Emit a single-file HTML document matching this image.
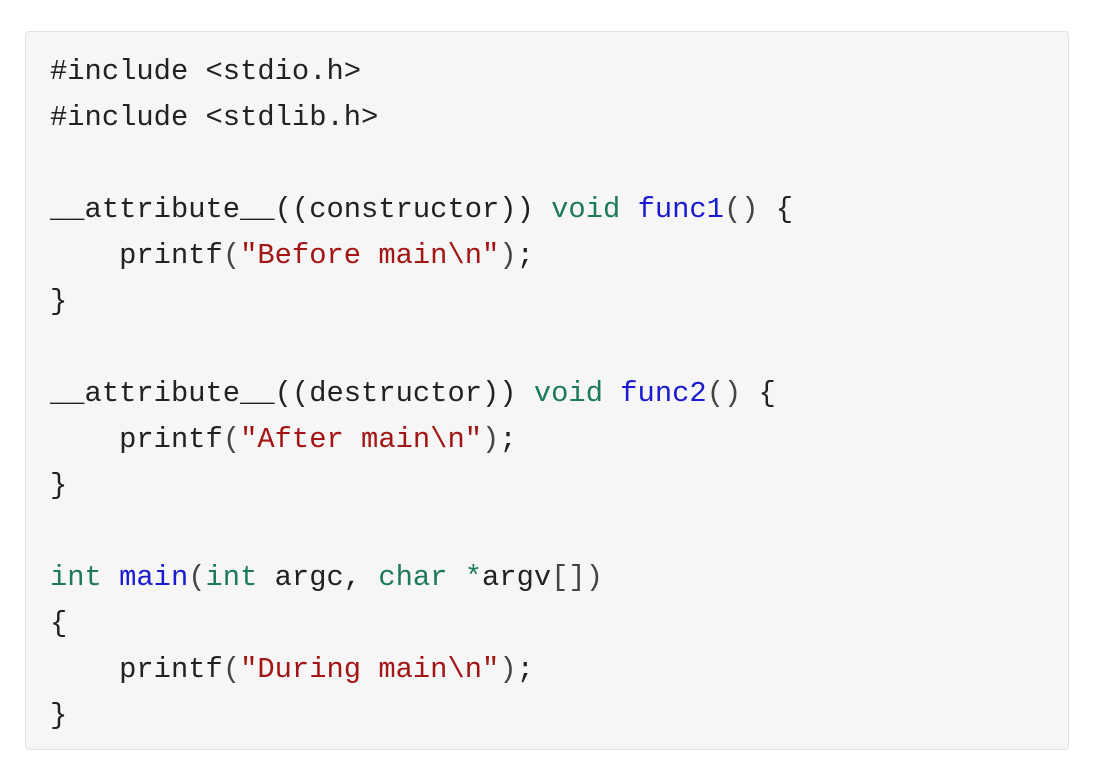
<!DOCTYPE html>
<html><head><meta charset="utf-8"><style>
html,body{margin:0;padding:0;background:#fff;width:1104px;height:778px;overflow:hidden}
.box{position:absolute;left:25px;top:31px;width:1042px;height:717px;background:#f6f6f6;border:1px solid #e2e2e2;border-radius:4px}
pre{position:absolute;left:50px;top:49px;margin:0;font-family:"Liberation Mono",monospace;font-size:28.8px;line-height:46px;color:#222}
.k{color:#1d7a5c}.f{color:#1a1ad0}.s{color:#a31515}.p{color:#444}
</style></head><body>
<div class="box"></div>
<pre>#include &lt;stdio.h&gt;
#include &lt;stdlib.h&gt;

__attribute__((constructor)) <span class="k">void</span> <span class="f">func1</span><span class="p">()</span> {
    printf<span class="p">(</span><span class="s">"Before main\n"</span><span class="p">)</span>;
}

__attribute__((destructor)) <span class="k">void</span> <span class="f">func2</span><span class="p">()</span> {
    printf<span class="p">(</span><span class="s">"After main\n"</span><span class="p">)</span>;
}

<span class="k">int</span> <span class="f">main</span><span class="p">(</span><span class="k">int</span> argc, <span class="k">char</span> <span class="k">*</span>argv<span class="p">[])</span>
{
    printf<span class="p">(</span><span class="s">"During main\n"</span><span class="p">)</span>;
}</pre>
</body></html>
